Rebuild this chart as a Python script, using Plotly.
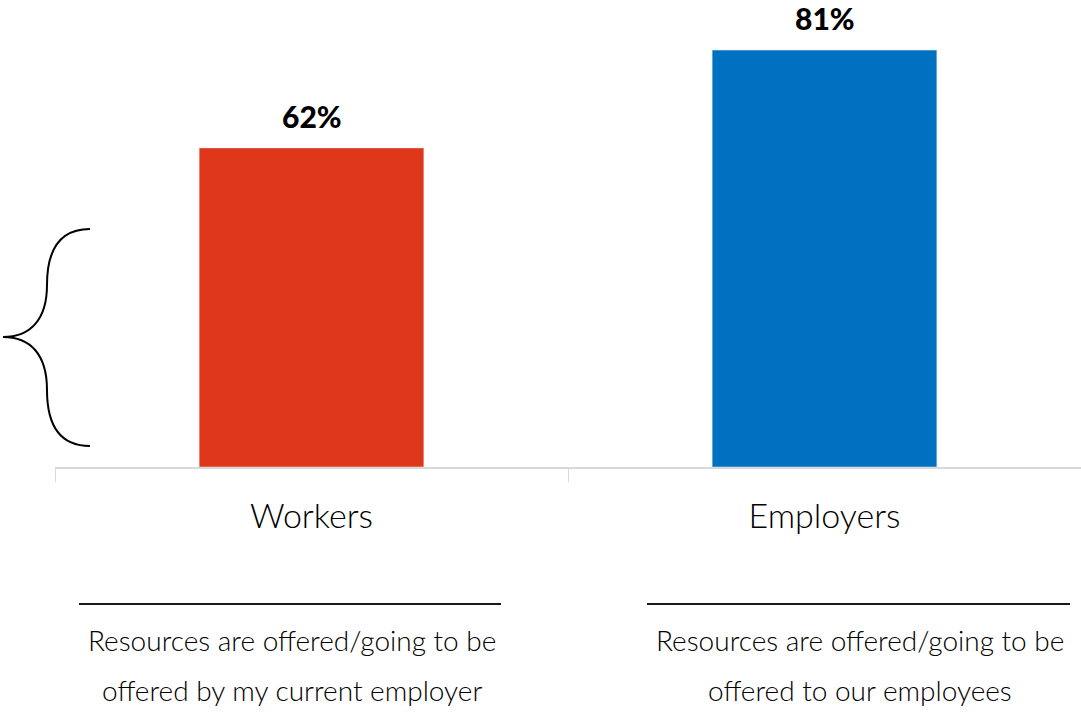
import plotly.graph_objects as go

categories = ["Workers", "Employers"]
values = [62, 81]
colors = ["#DE3719", "#0070C0"]
value_labels = ["62%", "81%"]
caption_line1 = ["Resources are offered/going to be", "Resources are offered/going to be"]
caption_line2 = ["offered by my current employer", "offered to our employees"]

W, H = 1081, 714
L, R, T, B = 55, 0, 0, 247
pw, ph = W - L - R, H - T - B

def px(x):
    return (x - L) / pw

def py(y):
    return (H - B - y) / ph

fig = go.Figure()
fig.add_trace(go.Bar(
    x=categories, y=values, marker_color=colors, width=0.438,
))

for c, v, t in zip(categories, values, value_labels):
    fig.add_annotation(x=c, y=v, text=t, showarrow=False, yanchor="bottom", yshift=12,
                       font=dict(family="Lato", size=30, color="#000000", weight=900))

# bracket on the left
pts = [(90, 229), (60, 229), (47, 250), (47, 285), (47, 320), (30, 337), (3, 337),
       (30, 337), (47, 354), (47, 390), (47, 425), (60, 446), (90, 446)]
p = [(px(a), py(b)) for a, b in pts]
path = "M {:.5f},{:.5f} ".format(*p[0])
for i in range(1, len(p), 3):
    path += "C {:.5f},{:.5f} {:.5f},{:.5f} {:.5f},{:.5f} ".format(*p[i], *p[i+1], *p[i+2])
fig.add_shape(type="path", path=path, xref="paper", yref="paper",
              line=dict(color="#000000", width=2))

# caption rules
for x0, x1 in [(79, 501), (647, 1070)]:
    fig.add_shape(type="line", xref="paper", yref="paper",
                  x0=px(x0), x1=px(x1), y0=py(604), y1=py(604),
                  line=dict(color="#1a1a1a", width=2))

centers = [292, 860]
for c, l1, l2 in zip(centers, caption_line1, caption_line2):
    fig.add_annotation(x=px(c), y=py(640), xref="paper", yref="paper", text=l1,
                       xanchor="center", yanchor="middle", showarrow=False,
                       font=dict(family="Lato", size=28, color="#000000", weight=300))
    fig.add_annotation(x=px(c), y=py(690), xref="paper", yref="paper", text=l2,
                       xanchor="center", yanchor="middle", showarrow=False,
                       font=dict(family="Lato", size=28, color="#000000", weight=300))

fig.update_layout(
    width=W, height=H, margin=dict(l=L, r=R, t=T, b=B),
    plot_bgcolor="white", paper_bgcolor="white", showlegend=False,
    bargap=0.562,
)
fig.update_xaxes(
    showline=True, linecolor="#d9d9d9", linewidth=2,
    ticks="outside", tickson="boundaries", ticklen=13, tickcolor="#d9d9d9", tickwidth=1,
    ticklabelstandoff=18,
    tickfont=dict(family="Lato", size=34, color="#000000", weight=300),
    showgrid=False,
)
fig.update_yaxes(range=[0, (H - B) / 5.147], visible=False, showgrid=False)

fig.write_html("out.html")
